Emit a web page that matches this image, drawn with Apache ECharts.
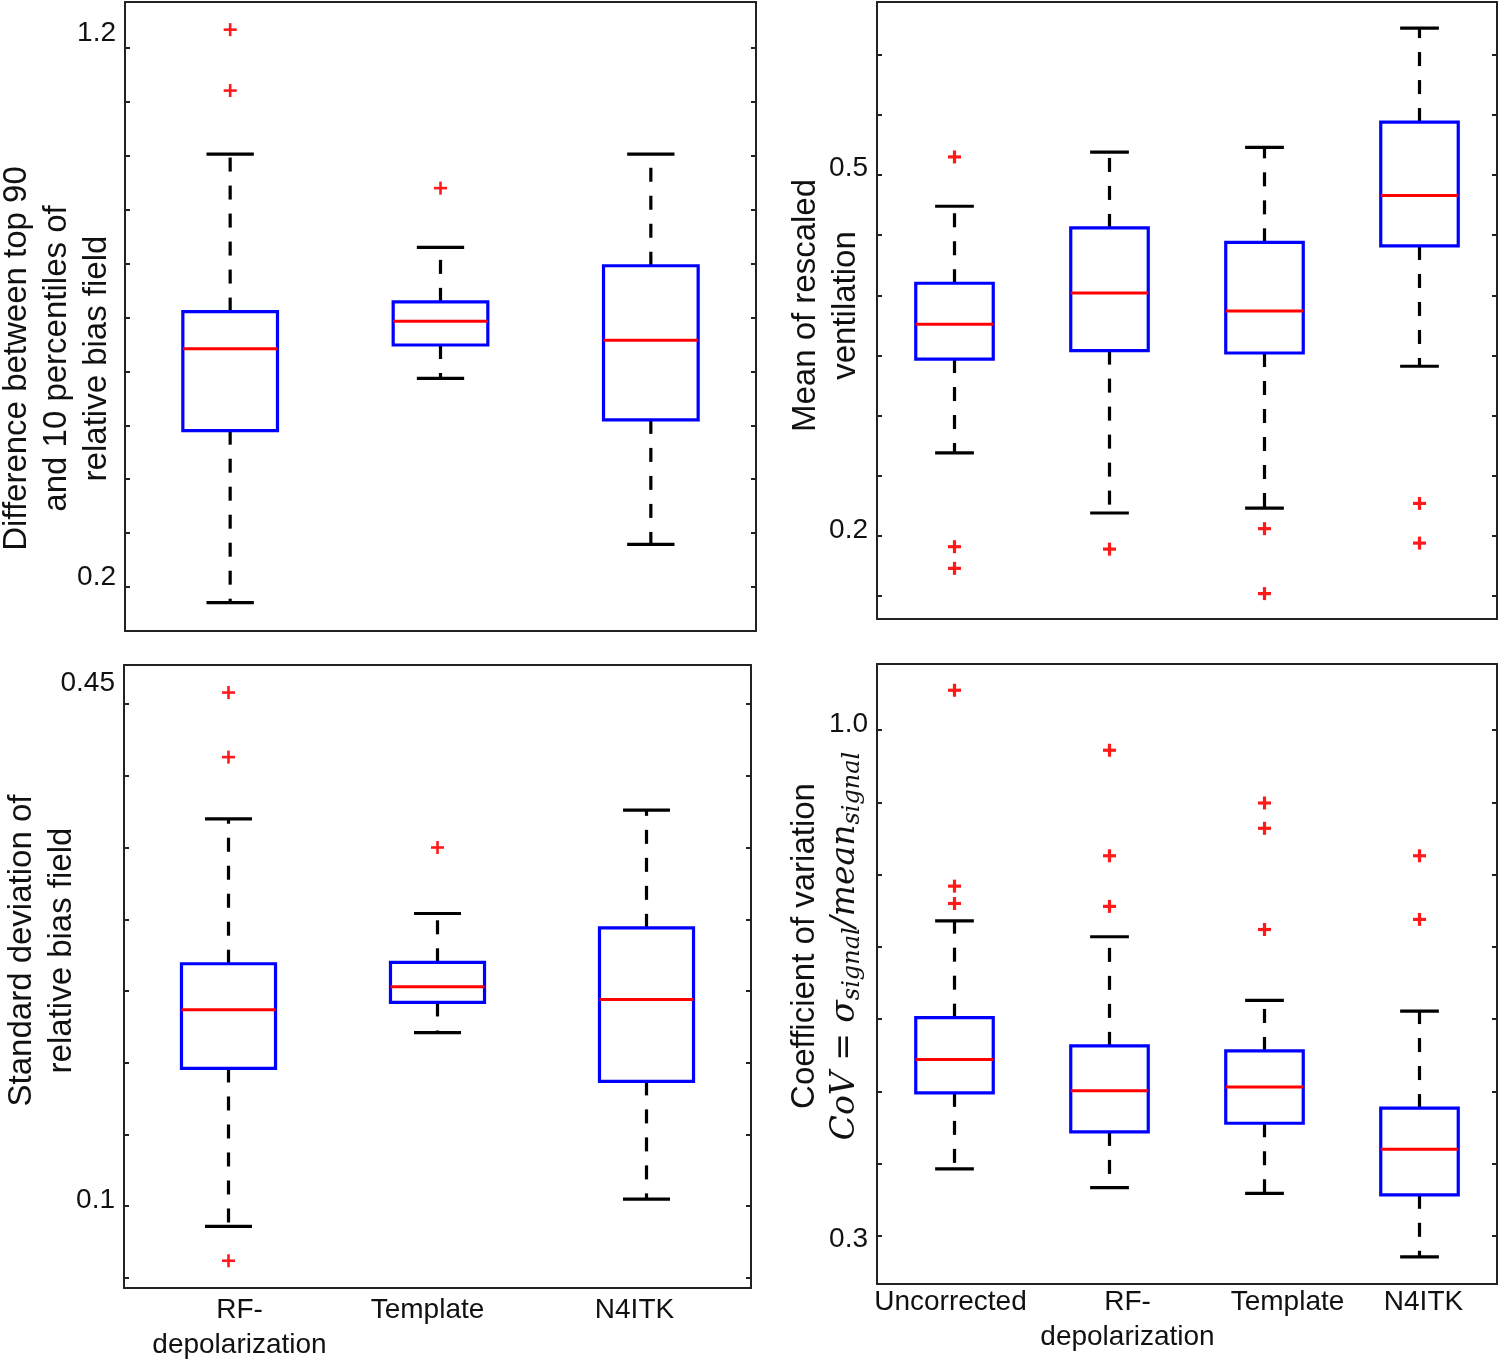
<!DOCTYPE html>
<html>
<head>
<meta charset="utf-8" />
<title>Bias field boxplots</title>
<script src="https://cdn.jsdelivr.net/npm/echarts@6/dist/echarts.min.js"></script>
<style>
  html, body { margin: 0; padding: 0; background: #fff; }
  #chart { width: 1500px; height: 1364px; }
</style>
</head>
<body>
<div id="chart"></div>
<script>
// ---- data ----
// box rows: [lower whisker, Q1, median, Q3, upper whisker]
var cats3 = ['RF-\ndepolarization', 'Template', 'N4ITK'];
var cats4 = ['Uncorrected', 'RF-\ndepolarization', 'Template', 'N4ITK'];

// top left: difference between 90th and 10th percentile
var p1Boxes = [
  [0.171, 0.490, 0.642, 0.711, 1.003],
  [0.587, 0.649, 0.693, 0.729, 0.830],
  [0.279, 0.510, 0.658, 0.796, 1.003]
];
var p1Outliers = [[0, 1.234], [0, 1.121], [1, 0.940]];
var p1Ticks = [0.2, 0.3, 0.4, 0.5, 0.6, 0.7, 0.8, 0.9, 1.0, 1.1, 1.2];
var p1Labels = ['0.2', '1.2'];

// top right: mean of rescaled ventilation
var p2Boxes = [
  [0.269, 0.347, 0.376, 0.410, 0.474],
  [0.219, 0.354, 0.402, 0.456, 0.519],
  [0.223, 0.352, 0.387, 0.444, 0.523],
  [0.341, 0.441, 0.483, 0.544, 0.622]
];
var p2Outliers = [[0, 0.515], [0, 0.191], [0, 0.173], [1, 0.189],
  [2, 0.206], [2, 0.152], [3, 0.227], [3, 0.194]];
var p2Ticks = [0.15, 0.2, 0.25, 0.3, 0.35, 0.4, 0.45, 0.5, 0.55, 0.6];
var p2Labels = ['0.2', '0.5'];

// bottom left: standard deviation of relative bias field
var p3Boxes = [
  [0.086, 0.196, 0.237, 0.269, 0.370],
  [0.221, 0.242, 0.253, 0.270, 0.304],
  [0.105, 0.187, 0.244, 0.294, 0.376]
];
var p3Outliers = [[0, 0.458], [0, 0.413], [0, 0.062], [1, 0.350]];
var p3Ticks = [0.05, 0.1, 0.15, 0.2, 0.25, 0.3, 0.35, 0.4, 0.45];
var p3Labels = ['0.1', '0.45'];

// bottom right: coefficient of variation
var p4Boxes = [
  [0.393, 0.498, 0.544, 0.602, 0.736],
  [0.367, 0.444, 0.501, 0.563, 0.714],
  [0.359, 0.456, 0.506, 0.556, 0.626],
  [0.271, 0.357, 0.420, 0.477, 0.611]
];
var p4Outliers = [[0, 1.055], [0, 0.784], [0, 0.760], [1, 0.972], [1, 0.826], [1, 0.756],
  [2, 0.899], [2, 0.864], [2, 0.724], [3, 0.826], [3, 0.738]];
var p4Ticks = [0.3, 0.4, 0.5, 0.6, 0.7, 0.8, 0.9, 1.0];
var p4Labels = ['0.3', '1.0'];

// ---- styling ----
var FONT = "'Liberation Sans', Arial, Helvetica, sans-serif";
var MATH = "'DejaVu Serif', 'Liberation Serif', serif";
var INK = '#111';
var AX = { color: '#222', width: 2 };
// small nudges of labels in px: category labels (+ = right), tick labels (+ = up)
var p3LabelShift = [11, -10, -12];
var p4LabelShift = [-4, 18, 23, 4];
var p1TickNudge = [10, 15];
var p2TickNudge = [6, 7];
var p3TickNudge = [6, 21];
var p4TickNudge = [-3, 6];

var myChart = echarts.init(document.getElementById('chart'));

function catData(cats, shift) {
  return cats.map(function (c, i) {
    var d = shift ? shift[i] : 0;
    return { value: c, textStyle: { padding: d >= 0 ? [0, 0, 0, 2 * d] : [0, -2 * d, 0, 0] } };
  });
}

function xAxes(gi, cats, labels, margin, shift) {
  return [{
    type: 'category', gridIndex: gi, data: catData(cats, shift), position: 'bottom',
    axisLine: { lineStyle: AX },
    axisTick: { inside: true, alignWithLabel: true, length: 6, lineStyle: AX },
    axisLabel: { show: labels, fontSize: 28, lineHeight: 35, color: INK, fontFamily: FONT, margin: margin, interval: 0 },
    splitLine: { show: false }
  }, {
    type: 'category', gridIndex: gi, data: cats, position: 'top',
    axisLine: { lineStyle: AX },
    axisTick: { inside: true, alignWithLabel: true, length: 6, lineStyle: AX },
    axisLabel: { show: false },
    splitLine: { show: false }
  }];
}

function yAxes(gi, min, max, ticks, labels, nudge, name, gap, pad, rich) {
  var nts = { fontSize: 33, lineHeight: 40, color: INK, fontFamily: FONT, padding: pad };
  if (rich) nts.rich = rich;
  var lrich = {};
  nudge.forEach(function (o, i) {
    lrich['n' + i] = { fontSize: 28, color: INK, fontFamily: FONT,
      padding: o >= 0 ? [0, 0, 2 * o, 0] : [-2 * o, 0, 0, 0] };
  });
  return [{
    type: 'value', gridIndex: gi, position: 'left', min: min, max: max,
    axisLine: { show: true, lineStyle: AX },
    axisTick: { show: true, inside: true, length: 5, lineStyle: AX, customValues: ticks },
    axisLabel: {
      show: true, customValues: labels.map(Number), fontSize: 28, color: INK, fontFamily: FONT,
      margin: 9, rich: lrich,
      formatter: function (v) {
        for (var i = 0; i < labels.length; i++) {
          if (Math.abs(Number(labels[i]) - v) < 1e-9) return '{n' + i + '|' + labels[i] + '}';
        }
        return '';
      }
    },
    splitLine: { show: false },
    name: name, nameLocation: 'middle', nameGap: gap, nameMoveOverlap: false, nameTextStyle: nts
  }, {
    type: 'value', gridIndex: gi, position: 'right', min: min, max: max,
    axisLine: { show: true, lineStyle: AX },
    axisTick: { show: true, inside: true, length: 5, lineStyle: AX, customValues: ticks },
    axisLabel: { show: false },
    splitLine: { show: false }
  }];
}

function boxSeries(gi, boxes, frac) {
  return {
    type: 'custom', xAxisIndex: gi * 2, yAxisIndex: gi * 2,
    data: boxes.map(function (b, i) { return [i].concat(b); }),
    encode: { x: 0, y: [1, 2, 3, 4, 5] },
    renderItem: function (params, api) {
      var c = api.value(0);
      var lo = api.coord([c, api.value(1)]);
      var q1 = api.coord([c, api.value(2)]);
      var md = api.coord([c, api.value(3)]);
      var q3 = api.coord([c, api.value(4)]);
      var hi = api.coord([c, api.value(5)]);
      var band = api.size([1, 0])[0];
      var bw = band * frac, cw = bw / 2, cx = lo[0];
      var dash = { stroke: '#000', lineWidth: 3.2, lineDash: [14, 14] };
      var solid = { stroke: '#000', lineWidth: 3.2 };
      return {
        type: 'group',
        children: [
          { type: 'line', shape: { x1: cx, y1: q3[1], x2: cx, y2: hi[1] }, style: dash },
          { type: 'line', shape: { x1: cx, y1: q1[1], x2: cx, y2: lo[1] }, style: dash },
          { type: 'line', shape: { x1: cx - cw / 2, y1: hi[1], x2: cx + cw / 2, y2: hi[1] }, style: solid },
          { type: 'line', shape: { x1: cx - cw / 2, y1: lo[1], x2: cx + cw / 2, y2: lo[1] }, style: solid },
          { type: 'rect', shape: { x: cx - bw / 2, y: q3[1], width: bw, height: q1[1] - q3[1] },
            style: { fill: 'none', stroke: '#0000ff', lineWidth: 3.2 } },
          { type: 'line', shape: { x1: cx - bw / 2, y1: md[1], x2: cx + bw / 2, y2: md[1] },
            style: { stroke: '#ff0000', lineWidth: 3 } }
        ]
      };
    }
  };
}

function outlierSeries(gi, pts, h, lw) {
  return {
    type: 'custom', xAxisIndex: gi * 2, yAxisIndex: gi * 2,
    data: pts,
    encode: { x: 0, y: 1 },
    renderItem: function (params, api) {
      var p = api.coord([api.value(0), api.value(1)]);
      var st = { stroke: '#ff1a1a', lineWidth: lw };
      return {
        type: 'group',
        children: [
          { type: 'line', shape: { x1: p[0] - h, y1: p[1], x2: p[0] + h, y2: p[1] }, style: st },
          { type: 'line', shape: { x1: p[0], y1: p[1] - h, x2: p[0], y2: p[1] + h }, style: st }
        ]
      };
    }
  };
}

var covRich = {
  m: { fontFamily: MATH, fontStyle: 'italic', fontSize: 33, color: INK },
  s: { fontFamily: MATH, fontStyle: 'italic', fontSize: 24, color: INK, verticalAlign: 'bottom', padding: [20, 0, 0, 0] }
};

var gridBase = { containLabel: false, outerBoundsMode: 'none' };
function grid(l, t, w, h) {
  return Object.assign({ left: l, top: t, width: w, height: h }, gridBase);
}

var option = {
  animation: false,
  backgroundColor: '#fff',
  grid: [
    grid(125, 2, 631, 629),
    grid(877, 2, 620, 617),
    grid(124, 665, 627, 623),
    grid(877, 664, 620, 620)
  ],
  xAxis: [].concat(
    xAxes(0, cats3, false, 6),
    xAxes(1, cats4, false, 6),
    xAxes(2, cats3, true, 5, p3LabelShift),
    xAxes(3, cats4, true, 1, p4LabelShift)
  ),
  yAxis: [].concat(
    yAxes(0, 0.1184, 1.2853, p1Ticks, p1Labels, p1TickNudge,
      'Difference between top 90\nand 10 percentiles of\nrelative bias field', 8, [0, 84, 0, 0]),
    yAxes(1, 0.1309, 0.6438, p2Ticks, p2Labels, p2TickNudge,
      'Mean of rescaled\nventilation', 11, [0, 0, 0, 10]),
    yAxes(2, 0.0430, 0.4772, p3Ticks, p3Labels, p3TickNudge,
      'Standard deviation of\nrelative bias field', 42, [0, 0, 0, 52]),
    yAxes(3, 0.2336, 1.0913, p4Ticks, p4Labels, p4TickNudge,
      'Coefficient of variation\n{m|CoV = σ}{s|signal}{m|/mean}{s|signal}', 12, [0, 0, 0, 56], covRich)
  ),
  series: [
    boxSeries(0, p1Boxes, 0.45), outlierSeries(0, p1Outliers, 6.5, 2.6),
    boxSeries(1, p2Boxes, 0.5), outlierSeries(1, p2Outliers, 6.5, 3.2),
    boxSeries(2, p3Boxes, 0.45), outlierSeries(2, p3Outliers, 6.5, 2.6),
    boxSeries(3, p4Boxes, 0.5), outlierSeries(3, p4Outliers, 6.5, 3.2)
  ]
};
myChart.setOption(option);
</script>
</body>
</html>
